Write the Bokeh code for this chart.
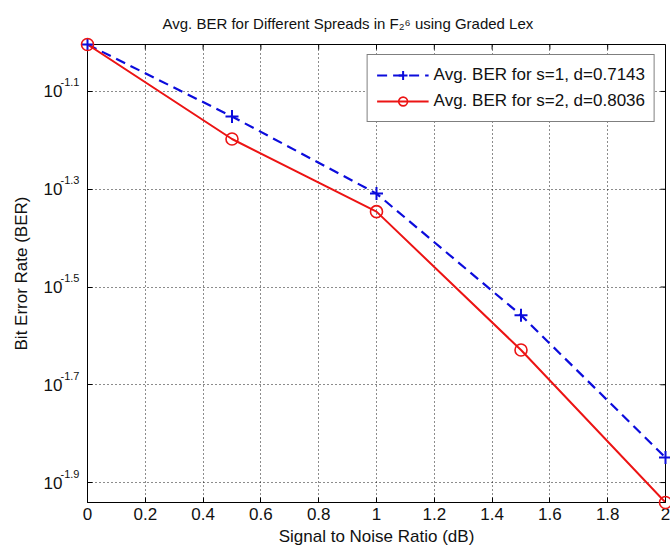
import math
from bokeh.plotting import figure
from bokeh.models import (Range1d, FixedTicker, LogAxis, Legend, LegendItem,
                          CustomJSTickFormatter)
from bokeh.embed import file_html
from bokeh.resources import INLINE

# ---- data ----
snr_db = [0, 0.5, 1, 1.5, 2]
ber_s1 = [0.0991, 0.0706, 0.0491, 0.0277, 0.01416]
ber_s2 = [0.0991, 0.0635, 0.0451, 0.0235, 0.01146]

x_ticks = [0, 0.2, 0.4, 0.6, 0.8, 1, 1.2, 1.4, 1.6, 1.8, 2]
x_tick_labels = ["0", "0.2", "0.4", "0.6", "0.8", "1", "1.2", "1.4", "1.6", "1.8", "2"]
y_tick_exponents = [-1.1, -1.3, -1.5, -1.7, -1.9]
y_tick_exp_labels = ["-1.1", "-1.3", "-1.5", "-1.7", "-1.9"]
y_tick_base = "10"
y_ticks = [10 ** e for e in y_tick_exponents]

title_text = "Avg. BER for Different Spreads in F\u2082\u2076 using Graded Lex"
x_label = "Signal to Noise Ratio (dB)"
y_label = "Bit Error Rate (BER)"
legend_labels = ["Avg. BER for s=1, d=0.7143", "Avg. BER for s=2, d=0.8036"]

FONT = "Liberation Sans"
TXT = "#111111"
BLUE = "#0c0cdc"
RED = "#ec1414"

all_vals = ber_s1 + ber_s2
x_lo, x_hi = min(snr_db), max(snr_db)
y_lo, y_hi = min(all_vals), max(all_vals)

p = figure(width=670, height=554, y_axis_type="log",
           x_range=Range1d(x_lo, x_hi), y_range=Range1d(y_lo, y_hi),
           output_backend="svg", toolbar_location=None,
           min_border_left=87, min_border_right=5,
           min_border_top=44, min_border_bottom=52,
           background_fill_color="white", border_fill_color="white")

p.outline_line_color = "black"
p.outline_line_width = 1

# title
p.title.text = title_text
p.title.text_font = FONT
p.title.text_font_size = "15px"
p.title.text_font_style = "normal"
p.title.text_color = TXT
p.title.align = "left"
p.title.offset = 75
p.title.standoff = 25

# x axis
xa = p.xaxis[0]
xa.ticker = FixedTicker(ticks=x_ticks)
xa.major_label_overrides = dict(zip(x_ticks, x_tick_labels))
xa.axis_label = x_label
xa.major_tick_in = 5
xa.major_tick_out = 0
xa.minor_tick_in = 0
xa.minor_tick_out = 0
xa.major_label_text_font = FONT
xa.major_label_text_font_size = "17px"
xa.major_label_text_color = TXT
xa.axis_label_text_font = FONT
xa.axis_label_text_font_size = "17px"
xa.axis_label_text_font_style = "normal"
xa.axis_label_text_color = TXT
xa.axis_line_color = "black"
xa.major_tick_line_color = "black"
xa.major_label_standoff = 5
xa.axis_label_standoff = 4

# y axis (inner): exponents, small; a blank second line raises them
ya = p.yaxis[0]
ya.ticker = FixedTicker(ticks=y_ticks)
ya.major_label_overrides = dict(zip(y_ticks, [s + "\n\u00a0" for s in y_tick_exp_labels]))
ya.axis_label = None
ya.major_tick_in = 5
ya.major_tick_out = 0
ya.minor_tick_in = 0
ya.minor_tick_out = 0
ya.major_label_text_font = FONT
ya.major_label_text_font_size = "11px"
ya.major_label_text_line_height = 1.5
ya.major_label_text_color = TXT
ya.major_label_standoff = 8
ya.axis_line_color = "black"
ya.major_tick_line_color = "black"

# y axis (outer): the base "10" and the axis title
ya2 = LogAxis(ticker=FixedTicker(ticks=y_ticks),
              formatter=CustomJSTickFormatter(args=dict(base_text=y_tick_base),
                                              code="return base_text;"),
              axis_label=y_label, axis_line_color=None,
              major_tick_in=0, major_tick_out=0, minor_tick_in=0, minor_tick_out=0,
              major_label_text_font=FONT, major_label_text_font_size="17px",
              major_label_text_color=TXT, major_label_standoff=-5,
              axis_label_text_font=FONT, axis_label_text_font_size="17px",
              axis_label_text_font_style="normal", axis_label_text_color=TXT,
              axis_label_standoff=10)
p.add_layout(ya2, "left")

# grid
for g in [p.xgrid[0], p.ygrid[0]]:
    g.grid_line_color = "black"
    g.grid_line_dash = "1 3"
    g.grid_line_width = 1
    g.grid_line_alpha = 0.9
p.xgrid[0].ticker = FixedTicker(ticks=x_ticks)
p.ygrid[0].ticker = FixedTicker(ticks=y_ticks)

# mirrored inward ticks on the top and right edges (clipped to the frame)
p.scatter([x_hi] * len(y_ticks), y_ticks, marker="dash", size=10,
          line_color="black", line_width=1)
p.scatter(x_ticks, [y_hi] * len(x_ticks), marker="dash", angle=math.pi / 2,
          size=10, line_color="black", line_width=1)

# series
l1 = p.line(snr_db, ber_s1, line_color=BLUE, line_width=2.2, line_dash="10 6")
s1 = p.scatter(snr_db, ber_s1, marker="cross", size=13, line_color=BLUE,
               line_width=2, level="overlay")
l2 = p.line(snr_db, ber_s2, line_color=RED, line_width=2)
s2 = p.scatter(snr_db, ber_s2, marker="circle", size=12, line_color=RED,
               fill_color=None, line_width=1.6, level="overlay")

legend = Legend(items=[LegendItem(label=legend_labels[0], renderers=[l1, s1]),
                       LegendItem(label=legend_labels[1], renderers=[l2, s2])],
                location="top_right", margin=10, padding=9, spacing=4,
                label_text_font=FONT, label_text_font_size="17px",
                label_text_color=TXT, label_height=22, glyph_height=22,
                glyph_width=52, label_standoff=5,
                border_line_color="black", border_line_width=1,
                background_fill_color="white", background_fill_alpha=1)
p.add_layout(legend, "center")

open("out.html", "w").write(file_html(p, INLINE))
